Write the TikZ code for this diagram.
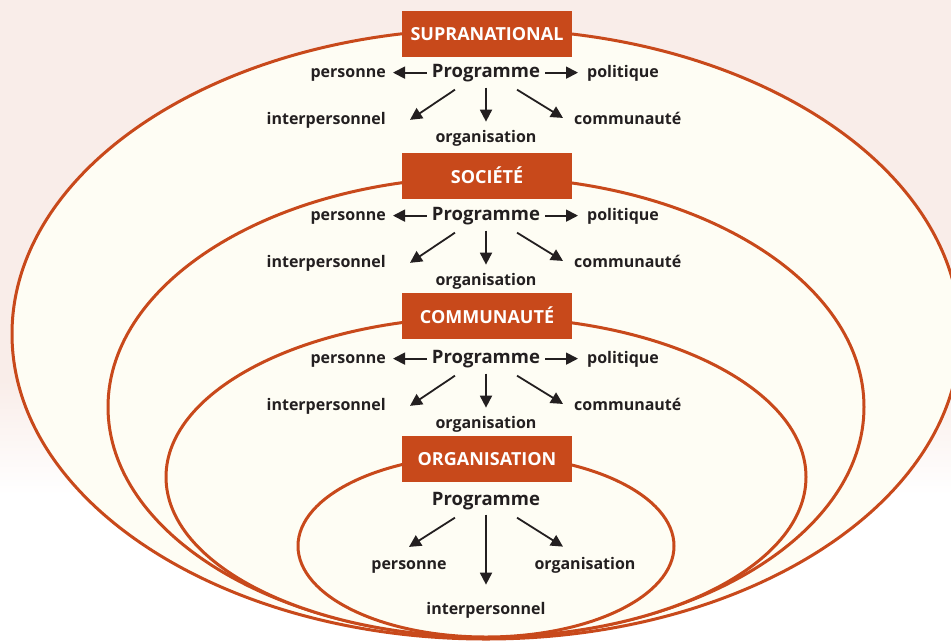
\documentclass[tikz,border=0pt]{standalone}
\usepackage{fontspec}
\setmainfont{Open Sans}
\usetikzlibrary{arrows.meta}
\definecolor{rust}{RGB}{200,73,27}
\definecolor{cream}{RGB}{254,253,244}
\definecolor{blush}{RGB}{249,237,233}
\definecolor{ink}{RGB}{35,31,32}

\begin{document}
\begin{tikzpicture}[x=1pt,y=-1pt,
    ring/.style={draw=rust,line width=3pt,fill=cream},
    levelbox/.style={fill=rust,text=white,minimum width=170pt,minimum height=46pt,inner sep=0pt,font=\fontsize{18}{20}\selectfont\bfseries},
    prog/.style={inner sep=0pt,text=ink,font=\fontsize{18.5}{20}\selectfont\bfseries},
    lab/.style={inner sep=0pt,text=ink,font=\fontsize{16}{18}\selectfont\bfseries},
    arr/.style={draw=ink,line width=1.8pt,-{Triangle[length=12pt,width=12pt]}}]
    \useasboundingbox (0,0) rectangle (951,641);
    % background
    \fill[blush] (0,0) rectangle (951,380);
    \shade[top color=blush,bottom color=white] (0,380) rectangle (951,495);
    % nested rings
    \draw[ring] (486,334) ellipse [x radius=474pt,y radius=305pt];
    \draw[ring] (486,407) ellipse [x radius=378pt,y radius=230pt];
    \draw[ring] (486,477) ellipse [x radius=320pt,y radius=160pt];
    \draw[ring] (486,546) ellipse [x radius=188pt,y radius=91pt];
    % level boxes
    \node[levelbox] (supra) at (487,34) {SUPRANATIONAL};
    \node[levelbox] (soc) at (487,175.5) {SOCIÉTÉ};
    \node[levelbox] (comm) at (487,315.5) {COMMUNAUTÉ};
    \node[levelbox] (orga) at (487,459) {ORGANISATION};
    % supranational
    \node[prog,anchor=base] (p1) at (486,77) {Programme};
    \node[lab,anchor=base east] (pe1) at (386,77) {personne};
    \node[lab,anchor=base west] (po1) at (587,77) {politique};
    \node[lab,anchor=base east] (in1) at (386,124) {interpersonnel};
    \node[lab,anchor=base] (or1) at (486,142) {organisation};
    \node[lab,anchor=base west] (co1) at (574,124) {communauté};
    % societe
    \node[prog,anchor=base] (p2) at (486,220) {Programme};
    \node[lab,anchor=base east] (pe2) at (386,220) {personne};
    \node[lab,anchor=base west] (po2) at (587,220) {politique};
    \node[lab,anchor=base east] (in2) at (386,267) {interpersonnel};
    \node[lab,anchor=base] (or2) at (486,285) {organisation};
    \node[lab,anchor=base west] (co2) at (574,267) {communauté};
    % communaute
    \node[prog,anchor=base] (p3) at (486,363) {Programme};
    \node[lab,anchor=base east] (pe3) at (386,363) {personne};
    \node[lab,anchor=base west] (po3) at (587,363) {politique};
    \node[lab,anchor=base east] (in3) at (386,410) {interpersonnel};
    \node[lab,anchor=base] (or3) at (486,428) {organisation};
    \node[lab,anchor=base west] (co3) at (574,410) {communauté};
    % organisation
    \node[prog,anchor=base] (p4) at (486,505) {Programme};
    \node[lab,anchor=base] (pe4) at (409,569) {personne};
    \node[lab,anchor=base] (or4) at (585,569) {organisation};
    \node[lab,anchor=base] (in4) at (486,614) {interpersonnel};
    % arrows
    \draw[arr] ([xshift=-5pt]p1.west) -- ([xshift=7pt]pe1.east |- p1.west);
    \draw[arr] ([xshift=5pt]p1.east) -- ([xshift=-9pt]po1.west |- p1.east);
    \draw[arr] ([shift={(-31pt,-8pt)}]p1.south) -- ([xshift=24pt]in1.east);
    \draw[arr] ([yshift=-6pt]p1.south) -- ([yshift=8pt]or1.north);
    \draw[arr] ([shift={(31pt,-8pt)}]p1.south) -- ([xshift=-11pt]co1.west);
    \draw[arr] ([xshift=-5pt]p2.west) -- ([xshift=7pt]pe2.east |- p2.west);
    \draw[arr] ([xshift=5pt]p2.east) -- ([xshift=-9pt]po2.west |- p2.east);
    \draw[arr] ([shift={(-31pt,-8pt)}]p2.south) -- ([xshift=24pt]in2.east);
    \draw[arr] ([yshift=-6pt]p2.south) -- ([yshift=8pt]or2.north);
    \draw[arr] ([shift={(31pt,-8pt)}]p2.south) -- ([xshift=-11pt]co2.west);
    \draw[arr] ([xshift=-5pt]p3.west) -- ([xshift=7pt]pe3.east |- p3.west);
    \draw[arr] ([xshift=5pt]p3.east) -- ([xshift=-9pt]po3.west |- p3.east);
    \draw[arr] ([shift={(-31pt,-8pt)}]p3.south) -- ([xshift=24pt]in3.east);
    \draw[arr] ([yshift=-6pt]p3.south) -- ([yshift=8pt]or3.north);
    \draw[arr] ([shift={(31pt,-8pt)}]p3.south) -- ([xshift=-11pt]co3.west);
    \draw[arr] ([shift={(-31pt,-8pt)}]p4.south) -- ([yshift=13pt]pe4.north);
    \draw[arr] ([yshift=-5pt]p4.south) -- ([yshift=17pt]in4.north);
    \draw[arr] ([shift={(31pt,-8pt)}]p4.south) -- ([shift={(-22pt,10pt)}]or4.north);
\end{tikzpicture}
\end{document}
